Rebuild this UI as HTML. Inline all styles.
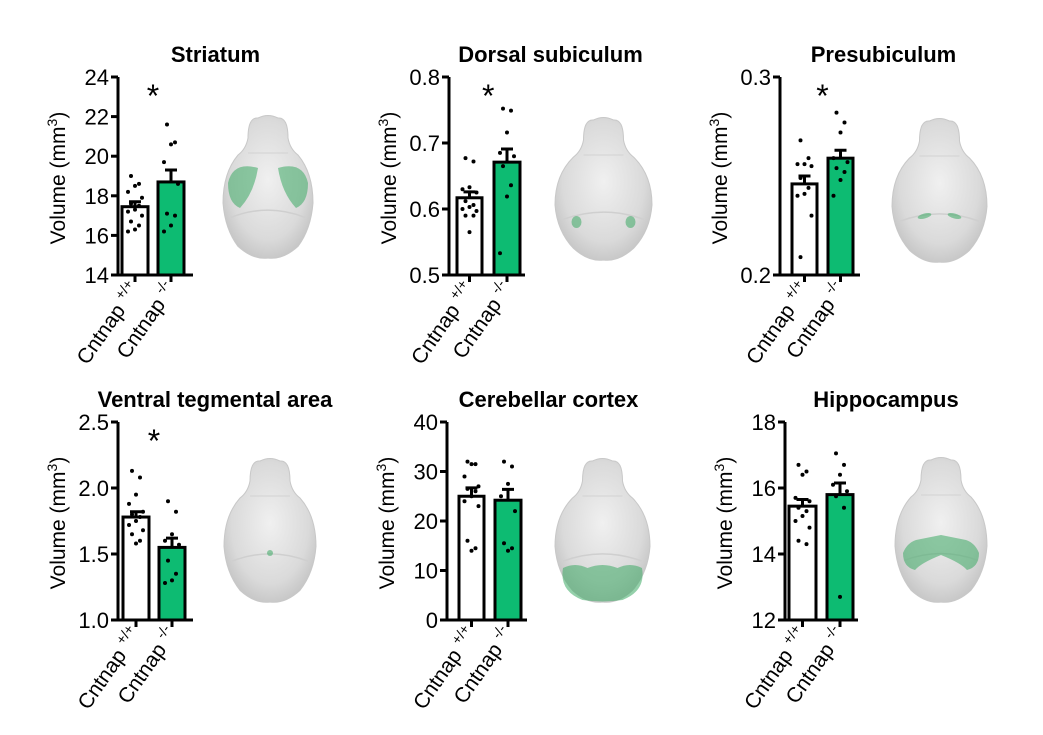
<!DOCTYPE html>
<html><head><meta charset="utf-8">
<style>
html,body{margin:0;padding:0;background:#fff;}
svg{display:block;font-family:"Liberation Sans",Arial,sans-serif;}
</style></head>
<body>
<svg id="fig" width="1043" height="735" viewBox="0 0 1043 735" xmlns="http://www.w3.org/2000/svg">
<defs>
<radialGradient id="brainGrad" cx="50%" cy="45%" r="60%">
<stop offset="0%" stop-color="#f0f0f0"/><stop offset="70%" stop-color="#dadada"/><stop offset="100%" stop-color="#c2c2c2"/>
</radialGradient>
</defs>
</svg>
<script>
// ---- data ----
const titles = ["Striatum","Dorsal subiculum","Presubiculum","Ventral tegmental area","Cerebellar cortex","Hippocampus"];
const yMins = [14, 0.5, 0.2, 1.0, 0, 12];
const yMaxs = [24, 0.8, 0.3, 2.5, 40, 18];
const tickLabels = [["14","16","18","20","22","24"],["0.5","0.6","0.7","0.8"],["0.2","0.3"],["1.0","1.5","2.0","2.5"],["0","10","20","30","40"],["12","14","16","18"]];
const wtMeans = [17.45, 0.617, 0.246, 1.78, 25.0, 15.45];
const wtErrs = [0.25, 0.009, 0.004, 0.04, 1.7, 0.2];
const koMeans = [18.7, 0.671, 0.259, 1.55, 24.2, 15.8];
const koErrs = [0.6, 0.02, 0.004, 0.07, 2.2, 0.35];
const wtPoints = [
 [19.0,18.6,18.5,18.2,17.9,17.6,17.5,17.3,17.2,17.0,16.7,16.5,16.3,16.2],
 [0.677,0.672,0.633,0.630,0.625,0.612,0.606,0.603,0.600,0.597,0.590,0.590,0.565],
 [0.268,0.259,0.256,0.256,0.255,0.249,0.244,0.241,0.240,0.230,0.209],
 [2.13,2.08,1.95,1.88,1.82,1.80,1.78,1.75,1.72,1.68,1.65,1.60,1.58],
 [32,31.5,31.5,29,27,26.5,26,25,24,23,16,14.5,14],
 [16.7,16.5,16.4,15.7,15.6,15.4,15.3,15.15,15.0,14.8,14.4,14.3]
];
const koPoints = [
 [21.6,20.7,20.6,19.7,18.6,17.1,17.0,16.5,16.2],
 [0.752,0.749,0.716,0.685,0.680,0.665,0.636,0.619,0.533],
 [0.282,0.277,0.272,0.259,0.257,0.254,0.252,0.248,0.240],
 [1.90,1.82,1.65,1.60,1.57,1.45,1.35,1.30,1.28],
 [32,31,27.5,25,22,15.5,14.5,14],
 [17.05,16.7,16.4,16.1,15.9,15.75,15.4,12.7]
];
const significant = [true,true,true,true,false,false];

// ---- layout ----
const L = [
 {ax:118, top:77, bot:275, w:[122,148], k:[158,184], end:193, brain:[223,113,90,145], reg:"striatum"},
 {ax:449, top:77, bot:275, w:[457,482], k:[494,520], end:525, brain:[555,115,97,145], reg:"dsub"},
 {ax:780, top:77, bot:275, w:[792,817], k:[828,853], end:860, brain:[892,116,95,146], reg:"presub"},
 {ax:118, top:422, bot:620, w:[123,149], k:[159,185], end:193, brain:[224,456,92,146], reg:"vta"},
 {ax:447, top:422, bot:620, w:[459,484], k:[495,521], end:527, brain:[555,456,95,146], reg:"cereb"},
 {ax:785, top:422, bot:620, w:[789,816], k:[827,853], end:858, brain:[895,455,92,147], reg:"hippo"}
];
const svg = document.getElementById('fig');
const NS = "http://www.w3.org/2000/svg";
function mk(tag, attrs, parent){const e=document.createElementNS(NS,tag);for(const k in attrs)e.setAttribute(k,attrs[k]);(parent||svg).appendChild(e);return e;}
const GREEN="#0dbb72";

function drawBrain(g, b, reg){
  const [x,y,w,h]=b;
  const cx=x+w/2;
  const p=`M${cx-10},${y+5} Q${cx},${y} ${cx+10},${y+5} Q${cx+20},${y+4} ${cx+20},${y+25} Q${cx+22},${y+36} ${cx+30},${y+42} Q${x+w},${y+60} ${x+w},${y+h*0.62} Q${x+w-2},${y+h*0.8} ${cx+30},${y+h*0.92} Q${cx+15},${y+h+2} ${cx},${y+h} Q${cx-15},${y+h+2} ${cx-30},${y+h*0.92} Q${x+2},${y+h*0.8} ${x},${y+h*0.62} Q${x},${y+60} ${cx-30},${y+42} Q${cx-22},${y+36} ${cx-20},${y+25} Q${cx-20},${y+4} ${cx-10},${y+5} Z`;
  const br=mk('path',{d:p,fill:'url(#brainGrad)',stroke:'#c8c8c8','stroke-width':1},g);
  
  
  mk('path',{d:`M${x+8},${y+h*0.72} Q${cx},${y+h*0.62} ${x+w-8},${y+h*0.72}`,fill:'none',stroke:'#cfcfcf','stroke-width':1.5},g);
  mk('path',{d:`M${cx-20},${y+40} L${cx+20},${y+40}`,fill:'none',stroke:'#d2d2d2','stroke-width':1},g);
  const gf='rgba(60,170,100,0.55)';
  let r;
  if(reg==="striatum"){
    r=mk('g',{},g);
    mk('path',{d:`M${cx-10},${y+55} Q${cx-35},${y+48} ${cx-40},${y+70} Q${cx-40},${y+90} ${cx-28},${y+95} Q${cx-14},${y+80} ${cx-10},${y+55}Z`,fill:gf},r);
    mk('path',{d:`M${cx+10},${y+55} Q${cx+35},${y+48} ${cx+40},${y+70} Q${cx+40},${y+90} ${cx+28},${y+95} Q${cx+14},${y+80} ${cx+10},${y+55}Z`,fill:gf},r);
  } else if(reg==="dsub"){
    r=mk('g',{},g);
    mk('ellipse',{cx:cx-27,cy:y+107,rx:5,ry:6,fill:gf},r);
    mk('ellipse',{cx:cx+27,cy:y+107,rx:5,ry:6,fill:gf},r);
  } else if(reg==="presub"){
    r=mk('g',{},g);
    mk('ellipse',{cx:cx-15,cy:y+100,rx:7,ry:2.5,fill:gf,transform:`rotate(-15 ${cx-15} ${y+100})`},r);
    mk('ellipse',{cx:cx+15,cy:y+100,rx:7,ry:2.5,fill:gf,transform:`rotate(15 ${cx+15} ${y+100})`},r);
  } else if(reg==="vta"){
    r=mk('circle',{cx:cx,cy:y+97,r:3,fill:gf},g);
  } else if(reg==="cereb"){
    r=mk('path',{d:`M${x+8},${y+112} Q${x+20},${y+106} ${cx-15},${y+112} Q${cx},${y+106} ${cx+15},${y+112} Q${x+w-20},${y+106} ${x+w-8},${y+112} Q${x+w-4},${y+135} ${cx+20},${y+h-2} Q${cx},${y+h+1} ${cx-20},${y+h-2} Q${x+4},${y+135} ${x+8},${y+112}Z`,fill:gf},g);
  } else if(reg==="hippo"){
    r=mk('path',{d:`M${x+8},${y+98} Q${x+12},${y+88} ${cx-25},${y+85} L${cx},${y+80} L${cx+25},${y+85} Q${x+w-12},${y+88} ${x+w-8},${y+98} Q${x+w-8},${y+112} ${x+w-20},${y+115} Q${cx+20},${y+108} ${cx},${y+100} Q${cx-20},${y+108} ${x+20},${y+115} Q${x+8},${y+112} ${x+8},${y+98}Z`,fill:gf},g);
  }
  
  
}

for(let i=0;i<6;i++){
  const P=L[i];
  const g=mk('g',{});
  
  
  const yS=v=>P.bot-(v-yMins[i])/(yMaxs[i]-yMins[i])*(P.bot-P.top);
  const wc=(P.w[0]+P.w[1])/2, kc=(P.k[0]+P.k[1])/2;
  const t=mk('text',{x:(P.ax+P.brain[0]+P.brain[2])/2+(i===3?-2:0),y:P.top-15,'text-anchor':'middle','font-size':22,'font-weight':'bold'},g);
  t.textContent=titles[i];
  
  
  const b1=mk('rect',{x:P.w[0],y:yS(wtMeans[i]),width:P.w[1]-P.w[0],height:P.bot-yS(wtMeans[i]),fill:'#fff',stroke:'#000','stroke-width':3},g);
  
  
  const b2=mk('rect',{x:P.k[0],y:yS(koMeans[i]),width:P.k[1]-P.k[0],height:P.bot-yS(koMeans[i]),fill:GREEN,stroke:'#000','stroke-width':3},g);
  
  
  [[wc,wtMeans[i],wtErrs[i]],[kc,koMeans[i],koErrs[i]]].forEach(([c,m,e])=>{
    const eb=mk('path',{d:`M${c},${yS(m)} V${yS(m+e)} M${c-6},${yS(m+e)} H${c+6}`,stroke:'#000','stroke-width':3,fill:'none'},g);
    
    
  });
  [[wc,wtPoints[i]],[kc,koPoints[i]]].forEach(([c,arr])=>{
    arr.forEach((v,j)=>{
      const off=[-4,4,0,-7,7][j%5];
      const d=mk('circle',{cx:c+off,cy:yS(v),r:2,fill:'#000'},g);
      
      
    });
  });
  const ya=mk('path',{d:`M${P.ax},${P.top} V${P.bot} H${P.end}`,stroke:'#000','stroke-width':3,fill:'none'},g);
  
  
  tickLabels[i].forEach(lbl=>{
    const v=parseFloat(lbl), yy=yS(v);
    mk('line',{x1:P.ax-7,x2:P.ax,y1:yy,y2:yy,stroke:'#000','stroke-width':3},g);
    const tl=mk('text',{x:P.ax-9,y:yy+8,'text-anchor':'end','font-size':22},g);
    tl.textContent=lbl;
    
    
  });
  [[wc,"+/+"],[kc,"-/-"]].forEach(([c,sup])=>{
    mk('line',{x1:c,x2:c,y1:P.bot,y2:P.bot+7,stroke:'#000','stroke-width':3},g);
    const ax=c+6, ay=P.bot+14;
    const xl=mk('text',{x:ax,y:ay,'text-anchor':'end','font-size':21,transform:`rotate(-55 ${ax} ${ay})`},g);
    
    
    xl.appendChild(document.createTextNode('Cntnap '));
    const ts=mk('tspan',{dy:-9,'font-size':14},xl);
    ts.textContent=sup;
  });
  const yx=P.ax-53, ym=(P.top+P.bot)/2+2;
  const yt=mk('text',{x:yx,y:ym,'text-anchor':'middle','font-size':21,transform:`rotate(-90 ${yx} ${ym})`},g);
  
  
  yt.appendChild(document.createTextNode('Volume (mm'));
  const s3=mk('tspan',{dy:-8,'font-size':14},yt); s3.textContent='3';
  const s4=mk('tspan',{dy:8},yt); s4.textContent=')';
  if(significant[i]){
    const st=mk('text',{x:(wc+kc)/2,y:P.top+30,'text-anchor':'middle','font-size':32},g);
    st.textContent='*';
    
    
  }
  const bg=mk('g',{},g);
  
  
  drawBrain(bg,P.brain,P.reg);
}
</script>
</body></html>
